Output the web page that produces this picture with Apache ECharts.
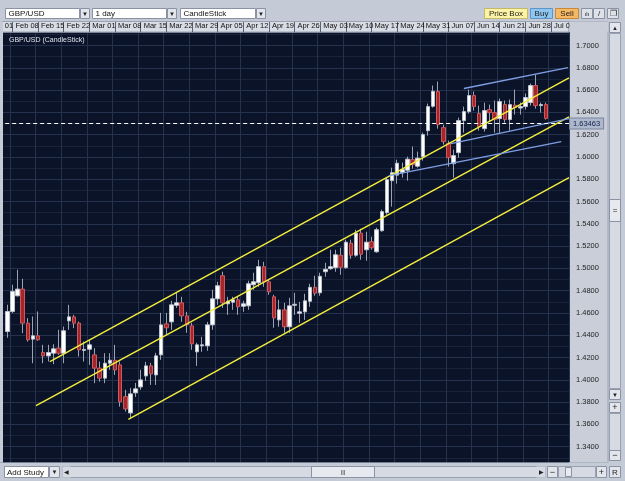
<!DOCTYPE html>
<html>
<head>
<meta charset="utf-8">
<script src="https://cdn.jsdelivr.net/npm/echarts@6/dist/echarts.min.js"></script>
<style>
  html, body { margin: 0; padding: 0; background: #c4cad6; }
  #chart { width: 625px; height: 481px; }
</style>
</head>
<body>
<div id="chart"></div>
<script>
// GBP/USD daily candles, Feb 05 - Jul 02 2009 (platform stamps days Sun..Thu)
const opens = [
  1.4433, 1.4613, 1.4754, 1.4814, 1.4509, 1.4365, 1.4395, 1.4245, 1.4215, 1.4239,
  1.4284, 1.4239, 1.4529, 1.4565, 1.4509, 1.4264, 1.4275, 1.4224, 1.4105, 1.4015,
  1.4149, 1.4176, 1.4134, 1.3849, 1.3703, 1.3883, 1.3936, 1.4035, 1.4125, 1.4044,
  1.4224, 1.4502, 1.4520, 1.4669, 1.4691, 1.4574, 1.4484, 1.4251, 1.4305, 1.4305,
  1.4493, 1.4727, 1.4934, 1.4682, 1.4696, 1.4718, 1.4660, 1.4664, 1.4853, 1.4871,
  1.5015, 1.4880, 1.4745, 1.4538, 1.4628, 1.4476, 1.4669, 1.4597, 1.4610, 1.4705,
  1.4830, 1.4781, 1.4970, 1.4997, 1.5006, 1.5118, 1.5006, 1.5226, 1.5118, 1.5316,
  1.5167, 1.5239, 1.5149, 1.5338, 1.5500, 1.5787, 1.5837, 1.5859, 1.5881, 1.5976,
  1.5917, 1.6003, 1.6236, 1.6455, 1.6587, 1.6263, 1.6120, 1.5940, 1.6039, 1.6326,
  1.6407, 1.6551, 1.6389, 1.6254, 1.6425, 1.6398, 1.6344, 1.6470, 1.6335, 1.6465,
  1.6439, 1.6452, 1.6488, 1.6641, 1.6461, 1.6470
];
const highs = [
  1.4674, 1.4853, 1.4988, 1.4907, 1.4554, 1.4568, 1.4613, 1.4314, 1.4314, 1.4320,
  1.4449, 1.4478, 1.4673, 1.4583, 1.4523, 1.4343, 1.4359, 1.4284, 1.4164, 1.4239,
  1.4239, 1.4314, 1.4164, 1.3910, 1.3927, 1.3972, 1.4089, 1.4161, 1.4152, 1.4242,
  1.4601, 1.4601, 1.4709, 1.4781, 1.4745, 1.4610, 1.4511, 1.4332, 1.4386, 1.4520,
  1.4808, 1.4880, 1.4970, 1.4745, 1.4745, 1.4745, 1.4709, 1.4889, 1.4961, 1.5077,
  1.5059, 1.4898, 1.4763, 1.4718, 1.4691, 1.4736, 1.4781, 1.4700, 1.4772, 1.4862,
  1.4934, 1.4961, 1.5050, 1.5167, 1.5167, 1.5185, 1.5257, 1.5257, 1.5347, 1.5356,
  1.5329, 1.5284, 1.5365, 1.5527, 1.5814, 1.5904, 1.5976, 1.5949, 1.6003, 1.6093,
  1.6048, 1.6218, 1.6479, 1.6641, 1.6677, 1.6290, 1.6147, 1.6066, 1.6353, 1.6452,
  1.6605, 1.6587, 1.6461, 1.6488, 1.6470, 1.6506, 1.6524, 1.6506, 1.6515, 1.6605,
  1.6488, 1.6569, 1.6659, 1.6739, 1.6488, 1.6488
];
const lows = [
  1.4377, 1.4599, 1.4748, 1.4419, 1.4343, 1.4149, 1.4350, 1.4149, 1.4164, 1.4140,
  1.4224, 1.4149, 1.4449, 1.4464, 1.4209, 1.4164, 1.4134, 1.3970, 1.3984, 1.3970,
  1.4089, 1.4044, 1.3759, 1.3715, 1.3658, 1.3847, 1.3910, 1.3990, 1.3954, 1.3954,
  1.4179, 1.4404, 1.4449, 1.4646, 1.4520, 1.4422, 1.4269, 1.4125, 1.4251, 1.4260,
  1.4449, 1.4673, 1.4646, 1.4583, 1.4628, 1.4583, 1.4610, 1.4628, 1.4808, 1.4835,
  1.4835, 1.4763, 1.4467, 1.4476, 1.4422, 1.4422, 1.4583, 1.4511, 1.4538, 1.4655,
  1.4754, 1.4754, 1.4925, 1.4988, 1.4970, 1.4943, 1.4997, 1.5086, 1.5104, 1.5077,
  1.5068, 1.5167, 1.5140, 1.5329, 1.5482, 1.5554, 1.5760, 1.5814, 1.5787, 1.5895,
  1.5904, 1.5967, 1.6191, 1.6443, 1.6254, 1.6111, 1.5913, 1.5814, 1.5994, 1.6218,
  1.6389, 1.6416, 1.6236, 1.6227, 1.6317, 1.6218, 1.6218, 1.6308, 1.6236, 1.6380,
  1.6380, 1.6425, 1.6461, 1.6434, 1.6398, 1.6335
];
const closes = [
  1.4613, 1.4793, 1.4814, 1.4509, 1.4359, 1.4395, 1.4359, 1.4215, 1.4245, 1.4278,
  1.4239, 1.4440, 1.4565, 1.4509, 1.4269, 1.4273, 1.4314, 1.4105, 1.4015, 1.4149,
  1.4176, 1.4089, 1.3804, 1.3739, 1.3874, 1.3919, 1.3999, 1.4125, 1.4053, 1.4215,
  1.4493, 1.4467, 1.4673, 1.4691, 1.4574, 1.4493, 1.4323, 1.4314, 1.4314, 1.4493,
  1.4727, 1.4844, 1.4691, 1.4705, 1.4718, 1.4655, 1.4682, 1.4862, 1.4880, 1.5015,
  1.4880, 1.4790, 1.4556, 1.4628, 1.4476, 1.4664, 1.4678, 1.4610, 1.4709, 1.4830,
  1.4777, 1.4929, 1.4992, 1.5015, 1.5122, 1.5010, 1.5235, 1.5118, 1.5316, 1.5127,
  1.5235, 1.5185, 1.5347, 1.5509, 1.5796, 1.5859, 1.5944, 1.5886, 1.5980, 1.5931,
  1.5989, 1.6200, 1.6452, 1.6589, 1.6290, 1.6138, 1.5994, 1.6012, 1.6326, 1.6407,
  1.6551, 1.6452, 1.6272, 1.6416, 1.6398, 1.6335, 1.6497, 1.6335, 1.6470, 1.6443,
  1.6452, 1.6533, 1.6641, 1.6461, 1.6470, 1.6346
];
const lastQuote = 1.63463;

// hand-drawn trend lines: [[day index, price], [day index, price]]
const yellowLines = [
  [[12.3, 1.4164], [113.5, 1.6710]],
  [[9.6, 1.3768], [113.5, 1.6360]],
  [[27.6, 1.3644], [113.5, 1.5815]]
];
const blueLines = [
  [[93.0, 1.6614], [113.3, 1.6802]],
  [[90.5, 1.6120], [113.5, 1.6344]],
  [[78.4, 1.5832], [112.0, 1.6138]]
];

const MONTHS = ['Jan', 'Feb', 'Mar', 'Apr', 'May', 'Jun', 'Jul', 'Aug', 'Sep', 'Oct', 'Nov', 'Dec'];
const days = [];      // x categories
const weekStart = []; // true for the Sunday that opens each week
for (let t = Date.UTC(2009, 1, 1); days.length < 114; t += 86400000) {
  const d = new Date(t);
  const wd = d.getUTCDay();
  if (wd === 5 || wd === 6) continue;
  days.push(MONTHS[d.getUTCMonth()] + ' ' + String(d.getUTCDate()).padStart(2, '0'));
  weekStart.push(wd === 0);
}
const first = days.indexOf('Feb 05');

const wicks = opens.map((o, i) => [first + i, o, closes[i], lows[i], highs[i]]);
const bodies = opens.map((o, i) => [first + i, o, closes[i], Math.min(o, closes[i]), Math.max(o, closes[i])]);
const onWeek = (idx) => weekStart[idx];

const FONT = 'Liberation Sans';
const EDGE = '#8a92a4';

function rect(x, y, w, h, fill, stroke, z) {
  return { type: 'rect', silent: true, z: z || 50,
    shape: { x: x, y: y, width: w, height: h },
    style: { fill: fill, stroke: stroke || null, lineWidth: 1 } };
}
function txt(x, y, s, size, color, align, z) {
  return { type: 'text', silent: true, z: z || 51, x: x, y: y,
    style: { text: s, fill: color || '#111', fontSize: size || 8, fontFamily: FONT,
      align: align || 'left', verticalAlign: 'middle' } };
}
function button(x, y, w, h, s, fill, stroke, size) {
  return [rect(x, y, w, h, fill, stroke), txt(x + w / 2, y + h / 2 + 0.5, s, size || 7, '#222', 'center')];
}
function dropdown(x, w, s) {
  return [rect(x, 8.5, w, 10, '#ffffff', EDGE), txt(x + 3, 14, s, 8, '#111')]
    .concat(button(x + w + 1, 8.5, 9, 10, '▼', '#e2e5eb', EDGE, 6));
}

const chrome = [].concat(
  // top toolbar
  dropdown(5.5, 74, 'GBP/USD'),
  dropdown(92.5, 74, '1 day'),
  dropdown(180.5, 75, 'CandleStick'),
  button(484.5, 8.5, 43, 10, 'Price Box', '#fcf3a4', '#c4b96a', 8),
  button(530.5, 8.5, 22, 10, 'Buy', '#8ec6f2', '#5f95c6', 8),
  button(555.5, 8.5, 23, 10, 'Sell', '#f6b862', '#c68a3a', 8),
  button(581.5, 8.5, 11, 10, 'ılı', '#dde1e8', EDGE, 6),
  button(593.5, 8.5, 11, 10, '/', '#dde1e8', EDGE, 8),
  button(607.5, 8.5, 11, 10, '❐', '#dde1e8', EDGE, 8),
  // date header, left edge and price panel
  [rect(2, 21.5, 567, 10.5, '#d8dce4', '#9aa2b2', -10)],
  [rect(0, 21.5, 3, 441, '#c4cad6', null, 60)],
  [rect(569, 21.5, 39, 441, '#c9ced9', '#9aa2b2', -10)],
  [rect(569.5, 21.5, 39, 10, '#c9ced9', null, 60)],
  // vertical scroll column
  [rect(609.5, 33.5, 11, 355, '#d6dae2', '#9aa2b2')],
  button(609.5, 22.5, 11, 10, '▲', '#e2e5eb', EDGE, 6),
  button(609.5, 199.5, 11, 22, '=', '#e6e9ee', EDGE, 8),
  button(609.5, 389.5, 11, 10, '▼', '#e2e5eb', EDGE, 6),
  button(609.5, 402.5, 11, 10, '+', '#e2e5eb', EDGE, 9),
  [rect(609.5, 413.5, 11, 37, '#d6dae2', '#9aa2b2')],
  button(609.5, 450.5, 11, 10, '−', '#e2e5eb', EDGE, 9),
  // bottom bar
  [rect(0, 462.5, 625, 19, '#c4cad6', null, 40)],
  [rect(4.5, 466.5, 44, 11, '#ffffff', EDGE), txt(7, 472.5, 'Add Study', 8, '#111')],
  button(49.5, 466.5, 10, 11, '▼', '#e2e5eb', EDGE, 6),
  [rect(62.5, 466.5, 483, 11, '#d6dae2', '#9aa2b2')],
  button(62.5, 466.5, 8, 11, '◀', '#d6dae2', null, 6),
  button(311.5, 466.5, 63, 11, '|||', '#e6e9ee', EDGE, 6),
  button(536.5, 466.5, 9, 11, '▶', '#d6dae2', null, 6),
  button(547.5, 466.5, 10, 11, '−', '#e2e5eb', EDGE, 9),
  [rect(558.5, 466.5, 37, 11, '#d6dae2', '#9aa2b2'), rect(565.5, 467.5, 6, 9, '#e6e9ee', EDGE)],
  button(596.5, 466.5, 10, 11, '+', '#e2e5eb', EDGE, 9),
  button(609.5, 466.5, 11, 11, 'R', '#e2e5eb', EDGE, 8)
);

const chart = echarts.init(document.getElementById('chart'));

chart.setOption({
  animation: false,
  backgroundColor: '#c4cad6',
  title: {
    text: 'GBP/USD (CandleStick)',
    left: 4, top: 32,
    textStyle: { color: '#dfe3ec', fontSize: 7, fontWeight: 'normal', fontFamily: FONT }
  },
  grid: {
    left: -15.8, right: 56, top: 32, bottom: 19,
    show: true, backgroundColor: '#0b1329', borderWidth: 0,
    outerBoundsMode: 'none'
  },
  xAxis: [
    {
      type: 'category',
      data: days,
      position: 'top',
      boundaryGap: true,
      axisLine: { show: true, lineStyle: { color: '#7c8496' } },
      axisTick: { show: true, alignWithLabel: true, interval: onWeek, length: 10, lineStyle: { color: '#5a6172' } },
      axisLabel: {
        interval: onWeek, align: 'left', margin: 2, padding: [0, 0, 0, 3],
        fontSize: 7.5, fontFamily: FONT, color: '#111'
      },
      splitLine: { show: true, interval: onWeek, lineStyle: { color: '#25324e' } }
    },
    { type: 'value', min: -0.5, max: days.length - 0.5, show: false }
  ],
  yAxis: {
    type: 'value',
    position: 'right',
    min: 1.32625, max: 1.71213,
    minInterval: 0.02, maxInterval: 0.02, splitNumber: 19,
    axisLine: { show: false },
    axisTick: { show: false },
    axisLabel: {
      margin: 7, fontSize: 7.5, fontFamily: FONT, color: '#222',
      formatter: (v) => (Math.abs(v * 50 - Math.round(v * 50)) < 1e-6 ? v.toFixed(4) : '')
    },
    splitLine: { lineStyle: { color: '#25324e' } },
    minorTick: { show: false, splitNumber: 2 },
    minorSplitLine: { show: true, lineStyle: { color: '#19233c' } }
  },
  graphic: { elements: chrome },
  series: [
    {
      name: 'wicks', type: 'candlestick', data: wicks,
      encode: { x: 0, y: [1, 2, 3, 4] },
      barWidth: 1, silent: true,
      itemStyle: { color: '#9aa2b4', color0: '#9aa2b4', borderColor: '#9aa2b4', borderColor0: '#9aa2b4', borderWidth: 1 }
    },
    {
      name: 'GBP/USD', type: 'candlestick', data: bodies,
      encode: { x: 0, y: [1, 2, 3, 4] },
      barWidth: 4, silent: true,
      itemStyle: { color: '#ffffff', color0: '#a3262b', borderColor: '#bcc3cf', borderColor0: '#cf585c', borderWidth: 1 },
      markLine: {
        silent: true, symbol: ['none', 'none'],
        lineStyle: { color: '#ffffff', type: [4, 3], width: 1 },
        label: {
          position: 'end', distance: 1, formatter: lastQuote.toFixed(5),
          fontSize: 7.5, fontFamily: FONT, color: '#13204a',
          backgroundColor: '#aeb8cc', borderColor: '#7a86a0', borderWidth: 1, padding: [1, 3, 1, 3]
        },
        data: [{ yAxis: lastQuote }]
      }
    }
  ].concat(
    yellowLines.map((pts) => ({
      type: 'line', xAxisIndex: 1, data: pts, symbol: 'none', silent: true,
      lineStyle: { color: '#f4ee3c', width: 1.4 }
    })),
    blueLines.map((pts) => ({
      type: 'line', xAxisIndex: 1, data: pts, symbol: 'none', silent: true,
      lineStyle: { color: '#7f9ee2', width: 1.4 }
    }))
  )
});
</script>
</body>
</html>
